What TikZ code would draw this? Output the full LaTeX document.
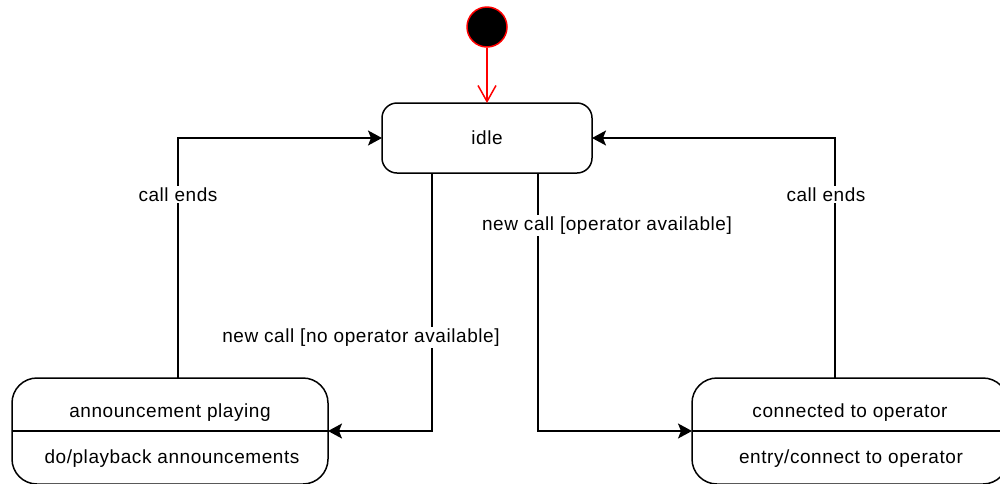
\documentclass[tikz,border=0pt]{standalone}
\usepackage{fontspec}
\setmainfont[LetterSpace=3]{Liberation Sans}
\usetikzlibrary{arrows.meta}

\tikzset{
  state/.style={draw, line width=1.5pt, rounded corners=15pt, inner sep=0pt, outer sep=0pt},
  splitstate/.style={state, rounded corners=25pt, minimum width=316pt, minimum height=106pt},
  txt/.style={inner sep=0pt, font=\fontsize{19}{23}\selectfont},
  lbl/.style={fill=white, inner sep=1.5pt, font=\fontsize{19}{23}\selectfont},
  arr/.style={line width=1.5pt, -{Stealth[length=14pt, width=15pt, inset=3pt]}},
  initarr/.style={draw=red, line width=1.5pt, -{Straight Barb[length=16pt, width=18pt, line width=1.5pt]}}
}

\begin{document}
\begin{tikzpicture}[x=1pt, y=-1pt]
  \useasboundingbox (0,0) rectangle (1000,483);
  \clip (0,0) rectangle (1000,483);

  % initial pseudo-state
  \node[circle, draw=red, fill=black, line width=1.5pt, minimum size=40pt, inner sep=0pt] (init) at (487,27) {};

  % idle state
  \node[state, minimum width=210pt, minimum height=70pt, txt] (idle) at (487,138) {idle};

  % announcement playing state (name + activity compartment)
  \node[splitstate] (play) at (170,431) {};
  \draw[line width=1.5pt] (play.west) -- (play.east);
  \node[txt] (playname) at (170,412.5) {announcement playing};
  \node[txt] (playdo) at (172,458.5) {do/playback announcements};

  % connected to operator state
  \node[splitstate] (conn) at (850,431) {};
  \draw[line width=1.5pt] (conn.west) -- (conn.east);
  \node[txt] (connname) at (850,412.5) {connected to operator};
  \node[txt] (connentry) at (851,458.5) {entry/connect to operator};

  % transitions
  \draw[initarr] (init) -- (idle.north);

  \draw[arr] ([xshift=-55pt]idle.south) |-
    node[lbl, pos=0.315, xshift=-71pt, yshift=-2pt] {new call [no operator available]} (play.east);

  \draw[arr] ([xshift=51pt]idle.south) |-
    node[lbl, pos=0.097, xshift=69pt, yshift=-2.5pt] {new call [operator available]} (conn.west);

  \draw[arr] ([xshift=8pt]play.north) |-
    node[lbl, pos=0.385, yshift=-1pt] {call ends} (idle.west);

  \draw[arr] ([xshift=-15pt]conn.north) |-
    node[lbl, pos=0.385, xshift=-9pt, yshift=-1pt] {call ends} (idle.east);
\end{tikzpicture}
\end{document}
